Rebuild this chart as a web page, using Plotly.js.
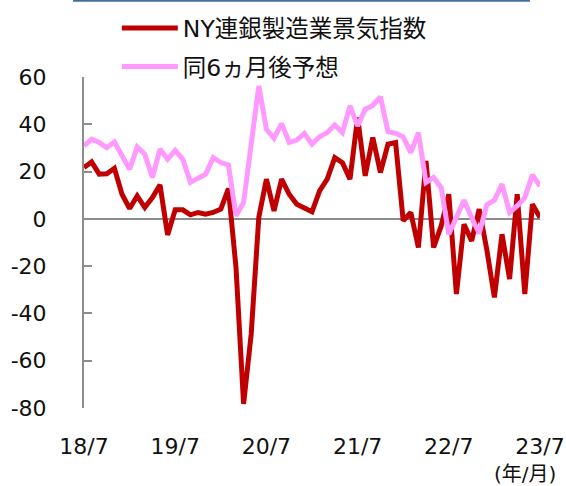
<!DOCTYPE html>
<html>
<head>
<meta charset="utf-8">
<script src="https://cdn.plot.ly/plotly-3.0.1.min.js"></script>
<style>html,body{margin:0;padding:0;background:#fff;}#chart{width:566px;height:486px;}</style>
</head>
<body>
<div id="chart"></div>
<script>
// Monthly, 2018/7 .. 2023/7
const months = [
 "18/7","18/8","18/9","18/10","18/11","18/12",
 "19/1","19/2","19/3","19/4","19/5","19/6","19/7","19/8","19/9","19/10","19/11","19/12",
 "20/1","20/2","20/3","20/4","20/5","20/6","20/7","20/8","20/9","20/10","20/11","20/12",
 "21/1","21/2","21/3","21/4","21/5","21/6","21/7","21/8","21/9","21/10","21/11","21/12",
 "22/1","22/2","22/3","22/4","22/5","22/6","22/7","22/8","22/9","22/10","22/11","22/12",
 "23/1","23/2","23/3","23/4","23/5","23/6","23/7"
];
const nyIndex = [
 21.7, 24.1, 18.9, 19.1, 21.4, 10.4,
 4.4, 9.7, 4.8, 9.0, 14.4, -6.8, 3.8, 3.8, 1.7, 2.7, 2.0, 2.7,
 4.1, 12.8, -20.6, -78.3, -48.7, 0.6, 16.8, 3.4, 16.8, 10.4, 6.2, 4.8,
 3.0, 11.8, 16.8, 25.9, 23.8, 16.8, 42.8, 18.2, 34.4, 19.6, 31.6, 32.3,
 -0.8, 2.7, -12.1, 24.5, -12.1, -3.0, 10.4, -31.8, -2.3, -9.3, 4.1, -13.0,
 -33.2, -6.5, -25.5, 10.4, -31.8, 6.2, 0.6
];
const sixMonthAhead = [
 30.9, 33.7, 32.3, 30.1, 32.5, 26.6,
 21.0, 30.4, 27.3, 17.5, 29.5, 25.2, 29.0, 25.2, 15.4, 17.2, 18.9, 25.9,
 23.8, 22.8, 1.3, 6.9, 30.0, 56.2, 37.9, 34.1, 40.3, 32.3, 33.3, 36.1,
 31.6, 34.7, 36.5, 39.7, 36.5, 47.8, 39.3, 46.4, 48.0, 51.6, 36.9, 36.2,
 34.7, 28.0, 36.5, 15.4, 17.5, 13.2, -6.5, 0.6, 7.9, 0.6, -6.2, 5.9,
 7.9, 14.7, 2.7, 5.5, 9.0, 18.6, 13.9
];
const xTickLabels = ["18/7","19/7","20/7","21/7","22/7","23/7"];
const yTickVals = [60, 40, 20, 0, -20, -40, -60, -80];
const seriesNames = ["NY連銀製造業景気指数", "同6ヵ月後予想"];

const idx = months.map((m, i) => i);
const tickIdx = xTickLabels.map(l => months.indexOf(l));

const FONT = "DejaVu Sans, Verdana, 'Noto Sans CJK JP', sans-serif";

const traces = [
  {x: idx, y: nyIndex, text: months, name: seriesNames[0], type: "scatter", mode: "lines",
   line: {color: "#C00000", width: 5}, legendgroup: "a", hoverinfo: "text+y"},
  {x: idx, y: sixMonthAhead, text: months, name: seriesNames[1], type: "scatter", mode: "lines",
   line: {color: "#FF99FF", width: 5}, legendgroup: "b", hoverinfo: "text+y"}
];

const layout = {
  width: 566, height: 486,
  margin: {l: 84, r: 26, t: 77, b: 78, autoexpand: false},
  paper_bgcolor: "#fff", plot_bgcolor: "rgba(0,0,0,0)",
  font: {family: FONT, size: 22, color: "#111"},
  showlegend: true,
  legend: {x: 0.072, y: 1.214, xanchor: "left", yanchor: "top", bgcolor: "rgba(0,0,0,0)",
           font: {family: FONT, size: 23.5, color: "#111"}, tracegroupgap: 5, itemwidth: 56},
  xaxis: {range: [0, 60], tickmode: "array", tickvals: tickIdx, ticktext: xTickLabels,
          showgrid: false, zeroline: false, showline: false, ticks: "", ticklabelstandoff: 23,
          tickfont: {family: FONT, size: 22, color: "#111"}, fixedrange: true, automargin: false},
  yaxis: {range: [-80, 60], tickmode: "array", tickvals: yTickVals, ticktext: yTickVals.map(String),
          showgrid: false, zeroline: true, zerolinecolor: "#8c8c8c", zerolinewidth: 2,
          showline: true, linecolor: "#8c8c8c", linewidth: 2, ticks: "inside", ticklen: 8,
          tickwidth: 2, tickcolor: "#8c8c8c", ticklabelstandoff: 31,
          tickfont: {family: FONT, size: 22, color: "#111"}, fixedrange: true, automargin: false},
  shapes: [
    {type: "line", xref: "paper", yref: "paper", x0: -0.024, x1: 0.978, y0: 1.230, y1: 1.230,
     line: {color: "#41719C", width: 2}}
  ],
  annotations: [
    {xref: "paper", yref: "paper", x: 1.038, y: -0.198, text: "(年/月)", showarrow: false,
     xanchor: "right", yanchor: "middle", borderpad: 0, font: {family: FONT, size: 20, color: "#111"}}
  ]
};

Plotly.newPlot("chart", traces, layout, {displayModeBar: false, staticPlot: true});
</script>
</body>
</html>
